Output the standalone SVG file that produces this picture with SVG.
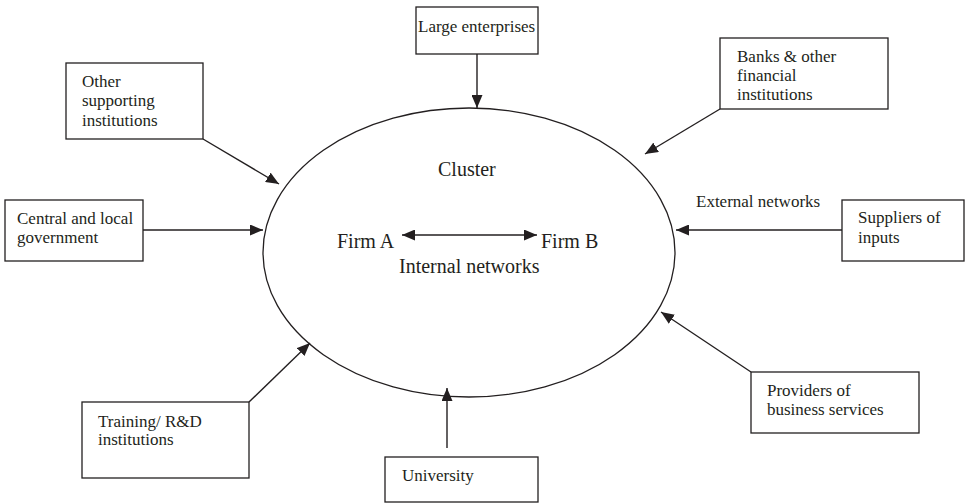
<svg xmlns="http://www.w3.org/2000/svg" width="967" height="503" viewBox="0 0 967 503" font-family="'Liberation Serif', 'Times New Roman', Times, serif">
<style>
  .box rect { fill: #fff; stroke: #231f20; stroke-width: 1.3; }
  text { fill: #231f20; }
  .t { font-size: 17px; }
  .big { font-size: 20px; }
  .conn line { stroke: #231f20; stroke-width: 1.4; marker-end: url(#ah); }
</style>
<defs>
  <marker id="ah" markerUnits="userSpaceOnUse" markerWidth="13" markerHeight="11" refX="13" refY="5.5" orient="auto-start-reverse">
    <path d="M0,0 L13,5.5 L0,11 z" fill="#231f20"/>
  </marker>
</defs>
<rect width="967" height="503" fill="#fff"/>

<g id="cluster">
  <ellipse cx="469" cy="252.5" rx="206" ry="144.5" fill="none" stroke="#231f20" stroke-width="1.3"/>
  <text class="big" x="438" y="176">Cluster</text>
  <text class="big" x="337" y="248">Firm A</text>
  <text class="big" x="541" y="248">Firm B</text>
  <text class="big" x="399" y="273">Internal networks</text>
</g>

<g id="large-enterprises" class="box">
  <rect x="416" y="7" width="122" height="47"/>
  <text class="t" x="418" y="32">Large enterprises</text>
</g>
<g id="other-supporting" class="box">
  <rect x="66" y="63" width="137" height="76"/>
  <text class="t" x="82" y="87">Other</text>
  <text class="t" x="82" y="106">supporting</text>
  <text class="t" x="82" y="126">institutions</text>
</g>
<g id="banks" class="box">
  <rect x="720" y="38" width="168" height="71"/>
  <text class="t" x="737" y="62">Banks &amp; other</text>
  <text class="t" x="737" y="81">financial</text>
  <text class="t" x="737" y="100">institutions</text>
</g>
<g id="government" class="box">
  <rect x="5" y="200" width="138" height="61"/>
  <text class="t" x="17" y="224">Central and local</text>
  <text class="t" x="17" y="243">government</text>
</g>
<g id="suppliers" class="box">
  <rect x="842" y="200" width="122" height="61"/>
  <text class="t" x="858" y="223">Suppliers of</text>
  <text class="t" x="858" y="243">inputs</text>
</g>
<g id="external-label">
  <text class="t" x="696" y="207">External networks</text>
</g>
<g id="training" class="box">
  <rect x="82" y="402" width="167" height="76"/>
  <text class="t" x="98" y="427">Training/ R&amp;D</text>
  <text class="t" x="98" y="445">institutions</text>
</g>
<g id="providers" class="box">
  <rect x="751" y="372" width="168" height="61"/>
  <text class="t" x="767" y="396">Providers of</text>
  <text class="t" x="767" y="415">business services</text>
</g>
<g id="university" class="box">
  <rect x="385" y="457" width="153" height="45"/>
  <text class="t" x="402" y="481">University</text>
</g>

<g id="connectors" class="conn">
  <line x1="477" y1="54" x2="477" y2="108"/>
  <line x1="203" y1="139" x2="279" y2="184"/>
  <line x1="720" y1="109" x2="645" y2="154"/>
  <line x1="143" y1="230" x2="263" y2="230"/>
  <line x1="842" y1="230" x2="676" y2="230"/>
  <line x1="249" y1="402" x2="310" y2="343"/>
  <line x1="447" y1="448" x2="447" y2="388"/>
  <line x1="751" y1="372" x2="661" y2="312"/>
  <line x1="402" y1="235" x2="537" y2="235" marker-start="url(#ah)"/>
</g>
</svg>
